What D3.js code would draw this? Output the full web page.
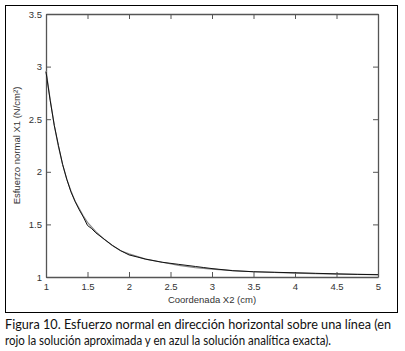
<!DOCTYPE html>
<html><head><meta charset="utf-8">
<script src="https://cdn.jsdelivr.net/npm/d3@7"></script>
<style>html,body{margin:0;padding:0;background:#fff;}svg{display:block;}</style>
</head><body>
<script>
// Data
const xApprox = [1.0,1.05,1.1,1.15,1.2,1.25,1.3,1.35,1.4,1.45,1.5,1.55,1.6,1.7,1.8,1.9,2.0,2.1,2.2,2.4,2.6,2.8,2.9,3.0,3.25,3.5,3.75,4.0,4.25,4.5,4.75,5.0];
const yApprox = [2.95,2.68,2.44,2.25,2.07,1.93,1.81,1.72,1.64,1.57,1.49,1.46,1.42,1.36,1.30,1.25,1.21,1.19,1.17,1.14,1.12,1.10,1.09,1.08,1.06,1.05,1.045,1.04,1.035,1.03,1.025,1.022];
const xExact = [1.0,1.05,1.1,1.15,1.2,1.25,1.3,1.35,1.4,1.45,1.5,1.6,1.7,1.8,1.9,2.0,2.2,2.4,2.6,2.8,3.0,3.25,3.5,4.0,4.5,5.0];
const yExact = [2.96,2.69,2.44,2.24,2.07,1.93,1.82,1.72,1.65,1.58,1.52,1.43,1.36,1.30,1.25,1.22,1.17,1.14,1.11,1.09,1.075,1.06,1.05,1.037,1.028,1.022];
const xTicks = [1,1.5,2,2.5,3,3.5,4,4.5,5];
const yTicks = [1,1.5,2,2.5,3,3.5];
const xTitle = "Coordenada X2 (cm)";
const yTitle = "Esfuerzo normal X1 (N/cm²)";
const caption = ["Figura 10. Esfuerzo normal en dirección horizontal sobre una línea (en",
                 "rojo la solución aproximada y en azul la solución analítica exacta)."];

const W = 405, H = 351;
const svg = d3.select("body").append("svg").attr("width", W).attr("height", H);

// outer frame
svg.append("rect").attr("x", 5.5).attr("y", 5.5).attr("width", 392).attr("height", 307)
  .attr("fill", "none").attr("stroke", "#000").attr("stroke-width", 1);

const L = 46, R = 378, T = 14, B = 277;
const x = d3.scaleLinear().domain([1, 5]).range([L, R]);
const y = d3.scaleLinear().domain([1, 3.5]).range([B, T]);

const axCol = "#555", txtCol = "#333";
const fnt = "Liberation Sans, Arial, sans-serif";

const gB = svg.append("g").attr("transform", `translate(0,${B})`)
  .call(d3.axisBottom(x).tickValues(xTicks).tickSizeInner(-5).tickSizeOuter(0).tickPadding(6).tickFormat(d3.format("")));
const gT = svg.append("g").attr("transform", `translate(0,${T})`)
  .call(d3.axisTop(x).tickValues(xTicks).tickSizeInner(-5).tickSizeOuter(0).tickFormat(""));
const gL = svg.append("g").attr("transform", `translate(${L},0)`)
  .call(d3.axisLeft(y).tickValues(yTicks).tickSizeInner(-5).tickSizeOuter(0).tickPadding(4).tickFormat(d3.format("")));
const gR = svg.append("g").attr("transform", `translate(${R},0)`)
  .call(d3.axisRight(y).tickValues(yTicks).tickSizeInner(-5).tickSizeOuter(0).tickFormat(""));

[gB, gT, gL, gR].forEach(g => {
  g.select(".domain").attr("stroke", axCol).attr("stroke-width", 1.3);
  g.selectAll(".tick line").attr("stroke", axCol);
  g.selectAll(".tick text").attr("fill", txtCol).style("font-family", fnt).style("font-size", "9.5px");
});

const line = d3.line().x(d => x(d[0])).y(d => y(d[1]));
svg.append("path").datum(xExact.map((v, i) => [v, yExact[i]]))
  .attr("d", line).attr("fill", "none").attr("stroke", "#888").attr("stroke-width", 1.2);
svg.append("path").datum(xApprox.map((v, i) => [v, yApprox[i]]))
  .attr("d", line).attr("fill", "none").attr("stroke", "#111").attr("stroke-width", 1);

svg.append("text").attr("x", 212).attr("y", 303).attr("text-anchor", "middle")
  .attr("fill", txtCol).style("font-family", fnt).style("font-size", "9.5px").text(xTitle);
svg.append("text").attr("transform", `translate(20,${(T + B) / 2}) rotate(-90)`).attr("text-anchor", "middle")
  .attr("fill", txtCol).style("font-family", fnt).style("font-size", "9.5px").text(yTitle);

const capFont = "Lato, 'Noto Sans', sans-serif";
svg.append("text").attr("x", 5).attr("y", 329).attr("textLength", 386).attr("lengthAdjust", "spacingAndGlyphs")
  .attr("fill", "#111").style("font-family", capFont).style("font-size", "12.5px").text(caption[0]);
svg.append("text").attr("x", 5).attr("y", 345).attr("textLength", 326).attr("lengthAdjust", "spacingAndGlyphs")
  .attr("fill", "#111").style("font-family", capFont).style("font-size", "12.5px").text(caption[1]);
</script>
</body></html>
